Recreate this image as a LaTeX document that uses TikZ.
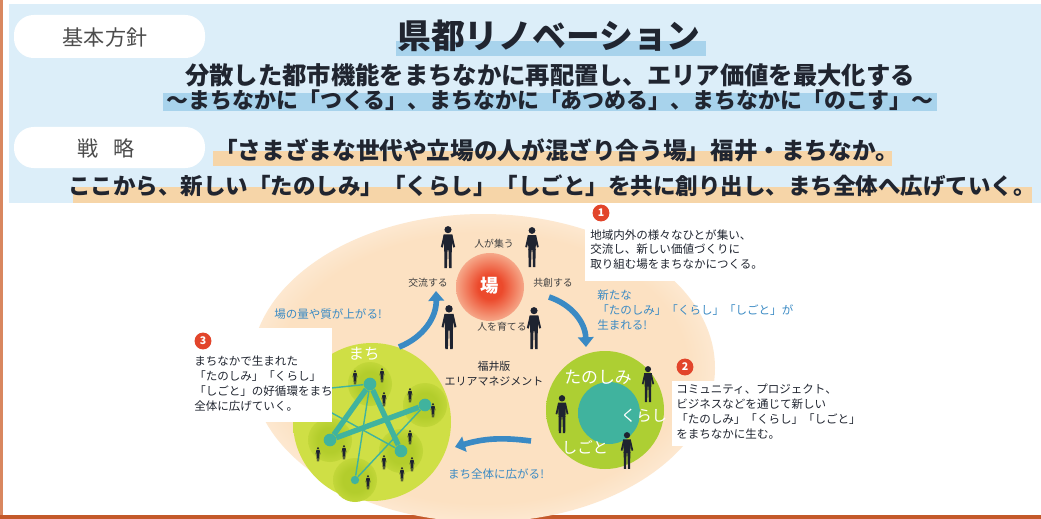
\documentclass[tikz,border=0pt]{standalone}
\usepackage{fontspec}
\setmainfont{Noto Sans CJK JP}
\usetikzlibrary{arrows.meta}

\definecolor{bandblue}{HTML}{DCEEF9}
\definecolor{markblue}{HTML}{A8D3EC}
\definecolor{marktan}{HTML}{F6D5A8}
\definecolor{frameorange}{HTML}{D9875F}
\definecolor{framedark}{HTML}{C4592A}
\definecolor{peach}{HTML}{FCE1C2}
\definecolor{barared}{HTML}{EC4A2C}
\definecolor{leafgreen}{HTML}{CFDF45}
\definecolor{leafdark}{HTML}{B3CD2C}
\definecolor{leafmid}{HTML}{ADCF33}
\definecolor{netteal}{HTML}{40B39E}
\definecolor{flowblue}{HTML}{3A8AC4}
\definecolor{inktext}{HTML}{202530}
\definecolor{badgered}{HTML}{E2452B}
\definecolor{shadow}{HTML}{1E2330}

% blurred blobs (the path edge sits at about 35bp)
\pgfdeclareradialshading{peachglow}{\pgfpoint{0bp}{0bp}}{%
  color(0bp)=(peach); color(22bp)=(peach); color(35bp)=(white); color(50bp)=(white)}
\pgfdeclareradialshading{baglow}{\pgfpoint{0bp}{0bp}}{%
  color(0bp)=(barared); color(9bp)=(barared); color(35bp)=(peach); color(50bp)=(peach)}
\pgfdeclareradialshading{townglow}{\pgfpoint{0bp}{0bp}}{%
  color(0bp)=(leafgreen); color(28bp)=(leafgreen); color(35bp)=(peach); color(50bp)=(peach)}
\pgfdeclareradialshading{patchglow}{\pgfpoint{0bp}{0bp}}{%
  color(0bp)=(leafdark); color(14bp)=(leafdark); color(35bp)=(leafgreen); color(50bp)=(leafgreen)}
\pgfdeclareradialshading{newglow}{\pgfpoint{0bp}{0bp}}{%
  color(0bp)=(leafmid); color(29bp)=(leafmid); color(35bp)=(peach); color(50bp)=(peach)}
\pgfdeclareradialshading{coreglow}{\pgfpoint{0bp}{0bp}}{%
  color(0bp)=(netteal); color(27bp)=(netteal); color(35bp)=(leafmid); color(50bp)=(leafmid)}

\tikzset{%
  txt/.style={inner sep=0pt, text=inktext},
  headline/.style={txt, font=\bfseries\fontsize{#1}{18}\selectfont},
  tag/.style={txt, text=black!70, font=\fontsize{15}{17}\selectfont},
  note/.style={txt, align=left, font=\fontsize{8.2}{10.6}\selectfont},
  flownote/.style={note, text=flowblue},
  small/.style={txt, text=black!75, font=\fontsize{7}{8.5}\selectfont},
  onleaf/.style={txt, text=white, font=\fontsize{11}{13}\selectfont},
  badge/.style={circle, fill=badgered, text=white, inner sep=0pt,
    minimum size=12pt, font=\bfseries\fontsize{7.5}{8}\selectfont},
  hub/.style={circle, fill=netteal, inner sep=0pt, minimum size=9pt},
  thickline/.style={netteal, line width=3.8pt},
  thinline/.style={netteal, line width=1pt},
  flowarrow/.style={flowblue, line width=4pt, -{Triangle[width=11pt,length=7pt]}},
  walker/.pic={
    \fill[shadow] (0,3.5) circle (3.4);
    \fill[shadow] (-4.2,8) -- (4.2,8) -- (3.6,23) -- (-3.6,23) -- cycle;
    \fill[shadow] (-4.2,8.5) -- (-6.8,20) -- (-5,20.5) -- (-2.6,11) -- cycle;
    \fill[shadow] (4.2,8.5) -- (6.8,20) -- (5,20.5) -- (2.6,11) -- cycle;
    \fill[shadow] (-3.6,22) -- (-0.4,22) -- (-1,40) -- (-3.4,40) -- cycle;
    \fill[shadow] (0.4,22) -- (3.6,22) -- (3.4,40) -- (1,40) -- cycle;
  },
}

\begin{document}
\begin{tikzpicture}[x=0.025cm, y=-0.025cm]
  \useasboundingbox (0,0) rectangle (1041,519);

  % frame and header band
  \fill[white] (0,0) rectangle (1041,519);
  \fill[bandblue] (9,4) rectangle (1041,203);
  \fill[frameorange] (0,0) rectangle (3,519);
  \fill[framedark] (0,515) rectangle (1041,519);

  % white tabs
  \fill[white, rounded corners=14pt] (14,15) rectangle (205,58);
  \fill[white, rounded corners=14pt] (14,127) rectangle (205,168);
  \node[tag] (tagbase) at (105,37) {基本方針};
  \node[tag] (tagplan) at (106,148) {戦\hspace{0.7em}略};

  % marker strokes under the headlines
  \fill[markblue] (396,41) rectangle (706,56);
  \fill[markblue] (163,93) rectangle (937,111);
  \fill[marktan] (213,151) rectangle (892,166);
  \fill[marktan] (73,187) rectangle (1032,203);

  \node[txt, font=\bfseries\fontsize{24}{28}\selectfont] (title) at (549,36) {県都リノベーション};
  \node[headline=17.3] (aim) at (550,75) {分散した都市機能をまちなかに再配置し、エリア価値を最大化する};
  \node[headline=15.6] (aimsub) at (550,100) {～まちなかに「つくる」、まちなかに「あつめる」、まちなかに「のこす」～};
  \node[headline=16.8, anchor=west] (plan) at (214,150) {「さまざまな世代や立場の人が混ざり合う場」福井・まちなか。};
  \node[headline=16] (plansub) at (552,186) {ここから、新しい「たのしみ」「くらし」「しごと」を共に創り出し、まち全体へ広げていく。};

  % area management field
  \shade[shading=peachglow] (483,368) ellipse [x radius=232, y radius=154];
  \shade[shading=baglow] (490,287) circle (34);
  \node[txt, text=white, font=\bfseries\fontsize{13}{15}\selectfont] (ba) at (490,286) {場};

  \pic[scale=1.05] at (448,226) {walker};
  \pic[scale=1.0] at (532,227) {walker};
  \pic[scale=1.1] at (449,305) {walker};
  \pic[scale=1.05] at (534,307) {walker};

  \node[small] (gather) at (494,244) {人が集う};
  \node[small] (mingle) at (428,283) {交流する};
  \node[small] (cocreate) at (553,283) {共創する};
  \node[small] (nurture) at (502,327) {人を育てる};
  \node[txt, align=center, font=\fontsize{7.8}{10.5}\selectfont] (fukui) at (494,374) {福井版\\エリアマネジメント};

  % town circle with its network
  \shade[shading=townglow] (372,422) circle (79);
  \foreach \p in {(370,384),(330,440),(425,405),(401,451),(355,480)}
    \shade[shading=patchglow] \p circle (22);
  \coordinate (edgeW1) at (312,390);
  \coordinate (edgeW2) at (312,402);
  \node[hub] (hubA) at (370,384) {};
  \node[hub] (hubB) at (330,440) {};
  \node[hub] (hubC) at (425,405) {};
  \node[hub] (hubD) at (401,451) {};
  \node[hub, minimum size=6pt] (hubE) at (355,480) {};
  \draw[thinline] (hubA) -- (edgeW1);
  \draw[thinline] (edgeW2) -- (hubD);
  \draw[thinline] (hubC) -- (hubE);
  \draw[thinline] (hubA) -- (hubE);
  \draw[thickline] (hubA) -- (hubB);
  \draw[thickline] (hubA) -- (hubD);
  \draw[thickline] (hubB) -- (hubC);
  \node[onleaf] (machi) at (364,354) {まち};
  \foreach \x/\y in {355/370, 382/368, 384/392, 410/388, 433/403, 410/430,
                     344/445, 318/447, 384/455, 412/457, 368/475, 402/467}
    \pic[scale=0.36] at (\x,\y) {walker};

  % new joy / living / work circle
  \shade[shading=newglow] (605,410) circle (59);
  \shade[shading=coreglow] (609,413) circle (31);
  \node[onleaf, font=\fontsize{12}{14}\selectfont] (joy) at (598,377) {たのしみ};
  \node[onleaf] (life) at (644,416) {くらし};
  \node[onleaf] (work) at (585,447) {しごと};
  \pic[scale=0.9] at (648,366) {walker};
  \pic[scale=0.95] at (562,395) {walker};
  \pic[scale=0.92] at (627,432) {walker};

  % cycle arrows
  \coordinate (upfrom) at (399,347);
  \coordinate (upto) at (436,291);
  \coordinate (downfrom) at (549,297);
  \coordinate (downto) at (586,347);
  \coordinate (backfrom) at (531,441);
  \coordinate (backto) at (455,447);
  \draw[flowarrow] (upfrom) to[bend right=35] (upto);
  \draw[flowarrow] (downfrom) to[bend left=35] (downto);
  \draw[flowarrow] (backfrom) to[bend right=12] (backto);

  \node[flownote, anchor=west] (quality) at (274,314) {場の量や質が上がる!};
  \node[flownote, anchor=north west] (born) at (597,290) {新たな\\「たのしみ」「くらし」「しごと」が\\生まれる!};
  \node[flownote] (spread) at (496,474) {まち全体に広がる!};

  % numbered notes
  \fill[white] (585,226) rectangle (792,281);
  \fill[white] (672,381) rectangle (850,446);
  \fill[white] (190,328) rectangle (332,422);
  \node[badge] (one) at (601,213) {1};
  \node[note, anchor=north west] (noteone) at (590,229) {地域内外の様々なひとが集い、\\交流し、新しい価値づくりに\\取り組む場をまちなかにつくる。};
  \node[badge] (two) at (685,367) {2};
  \node[note, anchor=north west] (notetwo) at (676,384) {コミュニティ、プロジェクト、\\ビジネスなどを通じて新しい\\「たのしみ」「くらし」「しごと」\\をまちなかに生む。};
  \node[badge] (three) at (203,341) {3};
  \node[note, anchor=north west] (notethree) at (194,356) {まちなかで生まれた\\「たのしみ」「くらし」\\「しごと」の好循環をまち\\全体に広げていく。};
\end{tikzpicture}
\end{document}
